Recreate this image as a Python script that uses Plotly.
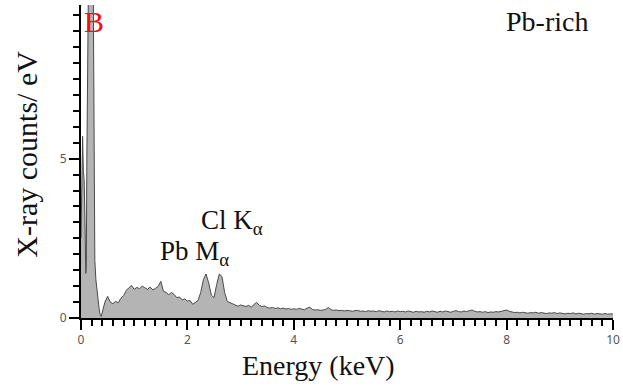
import plotly.graph_objects as go

# ---- data (energy in keV, counts in counts/eV) ----
energy_low = [0.00, 0.015, 0.03, 0.045, 0.06, 0.075, 0.09, 0.10, 0.11, 0.12, 0.14, 0.17,
              0.20, 0.225, 0.235, 0.245, 0.26, 0.28, 0.30, 0.32, 0.34, 0.36, 0.38]
counts_low = [2.5, 4.8, 5.7, 4.6, 4.3, 3.0, 1.4, 1.6, 5.0, 11.0, 14.0, 16.0,
              15.0, 12.0, 8.0, 4.0, 1.8, 1.2, 0.85, 0.55, 0.3, 0.1, 0.05]

energy_mid = [0.40, 0.45, 0.50, 0.55, 0.60, 0.65, 0.70, 0.75, 0.80, 0.85, 0.90, 0.95,
              1.00, 1.05, 1.10, 1.15, 1.20, 1.25, 1.30, 1.35, 1.40, 1.45, 1.50, 1.55,
              1.60, 1.65, 1.70, 1.75, 1.80, 1.85, 1.90, 1.95, 2.00, 2.05, 2.10, 2.15,
              2.20, 2.25, 2.30, 2.35, 2.40, 2.45, 2.50, 2.55, 2.60, 2.65, 2.70, 2.75,
              2.80, 2.85, 2.90, 2.95, 3.00, 3.05, 3.10, 3.15, 3.20, 3.25, 3.30, 3.35,
              3.40, 3.45, 3.50]
counts_mid = [0.18, 0.50, 0.68, 0.50, 0.45, 0.52, 0.48, 0.62, 0.70, 0.86, 0.95, 1.02,
              0.90, 0.96, 0.92, 1.00, 0.95, 0.90, 0.97, 0.88, 0.93, 0.99, 1.15, 0.84,
              0.80, 0.73, 0.80, 0.74, 0.64, 0.66, 0.57, 0.60, 0.53, 0.55, 0.43, 0.48,
              0.55, 0.80, 1.20, 1.38, 1.10, 0.72, 0.64, 1.05, 1.38, 1.30, 0.80, 0.52,
              0.48, 0.44, 0.40, 0.37, 0.41, 0.38, 0.36, 0.40, 0.34, 0.42, 0.49, 0.40,
              0.36, 0.38, 0.33]

energy_high = [3.55, 3.60, 3.65, 3.70, 3.75, 3.80, 3.85, 3.90, 3.95, 4.00,
               4.05, 4.10, 4.15, 4.20, 4.25, 4.30, 4.35, 4.40, 4.45, 4.50,
               4.55, 4.60, 4.65, 4.70, 4.75, 4.80, 4.85, 4.90, 4.95, 5.00,
               5.05, 5.10, 5.15, 5.20, 5.25, 5.30, 5.35, 5.40, 5.45, 5.50,
               5.55, 5.60, 5.65, 5.70, 5.75, 5.80, 5.85, 5.90, 5.95, 6.00,
               6.05, 6.10, 6.15, 6.20, 6.25, 6.30, 6.35, 6.40, 6.45, 6.50,
               6.55, 6.60, 6.65, 6.70, 6.75, 6.80, 6.85, 6.90, 6.95, 7.00,
               7.05, 7.10, 7.15, 7.20, 7.25, 7.30, 7.35, 7.40, 7.45, 7.50,
               7.55, 7.60, 7.65, 7.70, 7.75, 7.80, 7.85, 7.90, 7.95, 8.00,
               8.05, 8.10, 8.15, 8.20, 8.25, 8.30, 8.35, 8.40, 8.45, 8.50,
               8.55, 8.60, 8.65, 8.70, 8.75, 8.80, 8.85, 8.90, 8.95, 9.00,
               9.05, 9.10, 9.15, 9.20, 9.25, 9.30, 9.35, 9.40, 9.45, 9.50,
               9.55, 9.60, 9.65, 9.70, 9.75, 9.80, 9.85, 9.90, 9.95, 10.00, 10.05]
counts_high = [0.31, 0.33, 0.30, 0.32, 0.29, 0.31, 0.28, 0.30, 0.27, 0.29,
               0.27, 0.30, 0.28, 0.26, 0.31, 0.34, 0.27, 0.25, 0.26, 0.24,
               0.25, 0.27, 0.33, 0.26, 0.24, 0.25, 0.23, 0.24, 0.22, 0.24,
               0.23, 0.21, 0.23, 0.24, 0.21, 0.22, 0.20, 0.23, 0.21, 0.22,
               0.20, 0.23, 0.21, 0.19, 0.22, 0.20, 0.21, 0.19, 0.22, 0.20,
               0.21, 0.19, 0.22, 0.20, 0.18, 0.21, 0.19, 0.20, 0.18, 0.21,
               0.19, 0.22, 0.20, 0.18, 0.21, 0.19, 0.22, 0.20, 0.18, 0.21,
               0.23, 0.20, 0.19, 0.22, 0.20, 0.23, 0.25, 0.21, 0.19, 0.20,
               0.18, 0.20, 0.17, 0.19, 0.18, 0.20, 0.19, 0.21, 0.24, 0.25,
               0.21, 0.19, 0.17, 0.18, 0.16, 0.18, 0.17, 0.15, 0.17, 0.16,
               0.18, 0.15, 0.17, 0.16, 0.14, 0.16, 0.15, 0.17, 0.14, 0.16,
               0.15, 0.13, 0.15, 0.14, 0.16, 0.13, 0.15, 0.14, 0.12, 0.14,
               0.13, 0.15, 0.12, 0.14, 0.13, 0.12, 0.14, 0.12, 0.13, 0.12, 0.12]

energy = energy_low + energy_mid + energy_high
counts = counts_low + counts_mid + counts_high

SERIF = "Liberation Serif, Times New Roman, serif"
SANS = "Noto Sans, Open Sans, sans-serif"

fig = go.Figure()
fig.add_trace(go.Scatter(
    x=energy, y=counts, mode="lines",
    fill="tozeroy", fillcolor="#b4b4b4",
    line=dict(color="#4a4a4a", width=1),
    showlegend=False, hoverinfo="skip",
))

fig.update_layout(
    width=623, height=390,
    margin=dict(l=81, r=3, t=5, b=72),
    paper_bgcolor="white", plot_bgcolor="white",
    xaxis=dict(
        range=[0, 10],
        showline=True, linecolor="black", linewidth=2,
        ticks="outside", tickcolor="black", tickwidth=2, ticklen=10,
        dtick=2, ticklabeloverflow="allow",
        tickfont=dict(family=SANS, size=12, color="#555555"),
        minor=dict(dtick=0.2, ticks="outside", ticklen=6, tickcolor="black"),
    ),
    yaxis=dict(
        range=[0, 9.82],
        showline=True, linecolor="black", linewidth=2,
        ticks="outside", tickcolor="black", tickwidth=2, ticklen=10,
        dtick=5,
        tickfont=dict(family=SANS, size=12, color="#555555"),
        minor=dict(dtick=0.5, ticks="outside", ticklen=6, tickcolor="black"),
    ),
    annotations=[
        dict(text="B", x=0.25, y=9.29, xref="x", yref="y", showarrow=False,
             font=dict(family=SERIF, size=30, color="#ee1111")),
        dict(text="Pb-rich", x=8.75, y=9.29, xref="x", yref="y", showarrow=False,
             font=dict(family=SERIF, size=28, color="#111111")),
        dict(text="Cl K<sub>α</sub>", x=2.84, y=3.0, xref="x", yref="y", showarrow=False,
             font=dict(family=SERIF, size=27, color="#111111")),
        dict(text="Pb M<sub>α</sub>", x=2.13, y=2.05, xref="x", yref="y", showarrow=False,
             font=dict(family=SERIF, size=27, color="#111111")),
        dict(text="Energy (keV)", x=0.447, y=-0.153, xref="paper", yref="paper",
             xanchor="center", yanchor="middle",
             showarrow=False, font=dict(family=SERIF, size=28, color="#111111")),
        dict(text="X-ray counts/ eV", x=-0.102, y=0.524, xref="paper", yref="paper",
             xanchor="center", yanchor="middle",
             textangle=-90, showarrow=False,
             font=dict(family=SERIF, size=30, color="#111111")),
    ],
)

fig.write_html("out.html")
